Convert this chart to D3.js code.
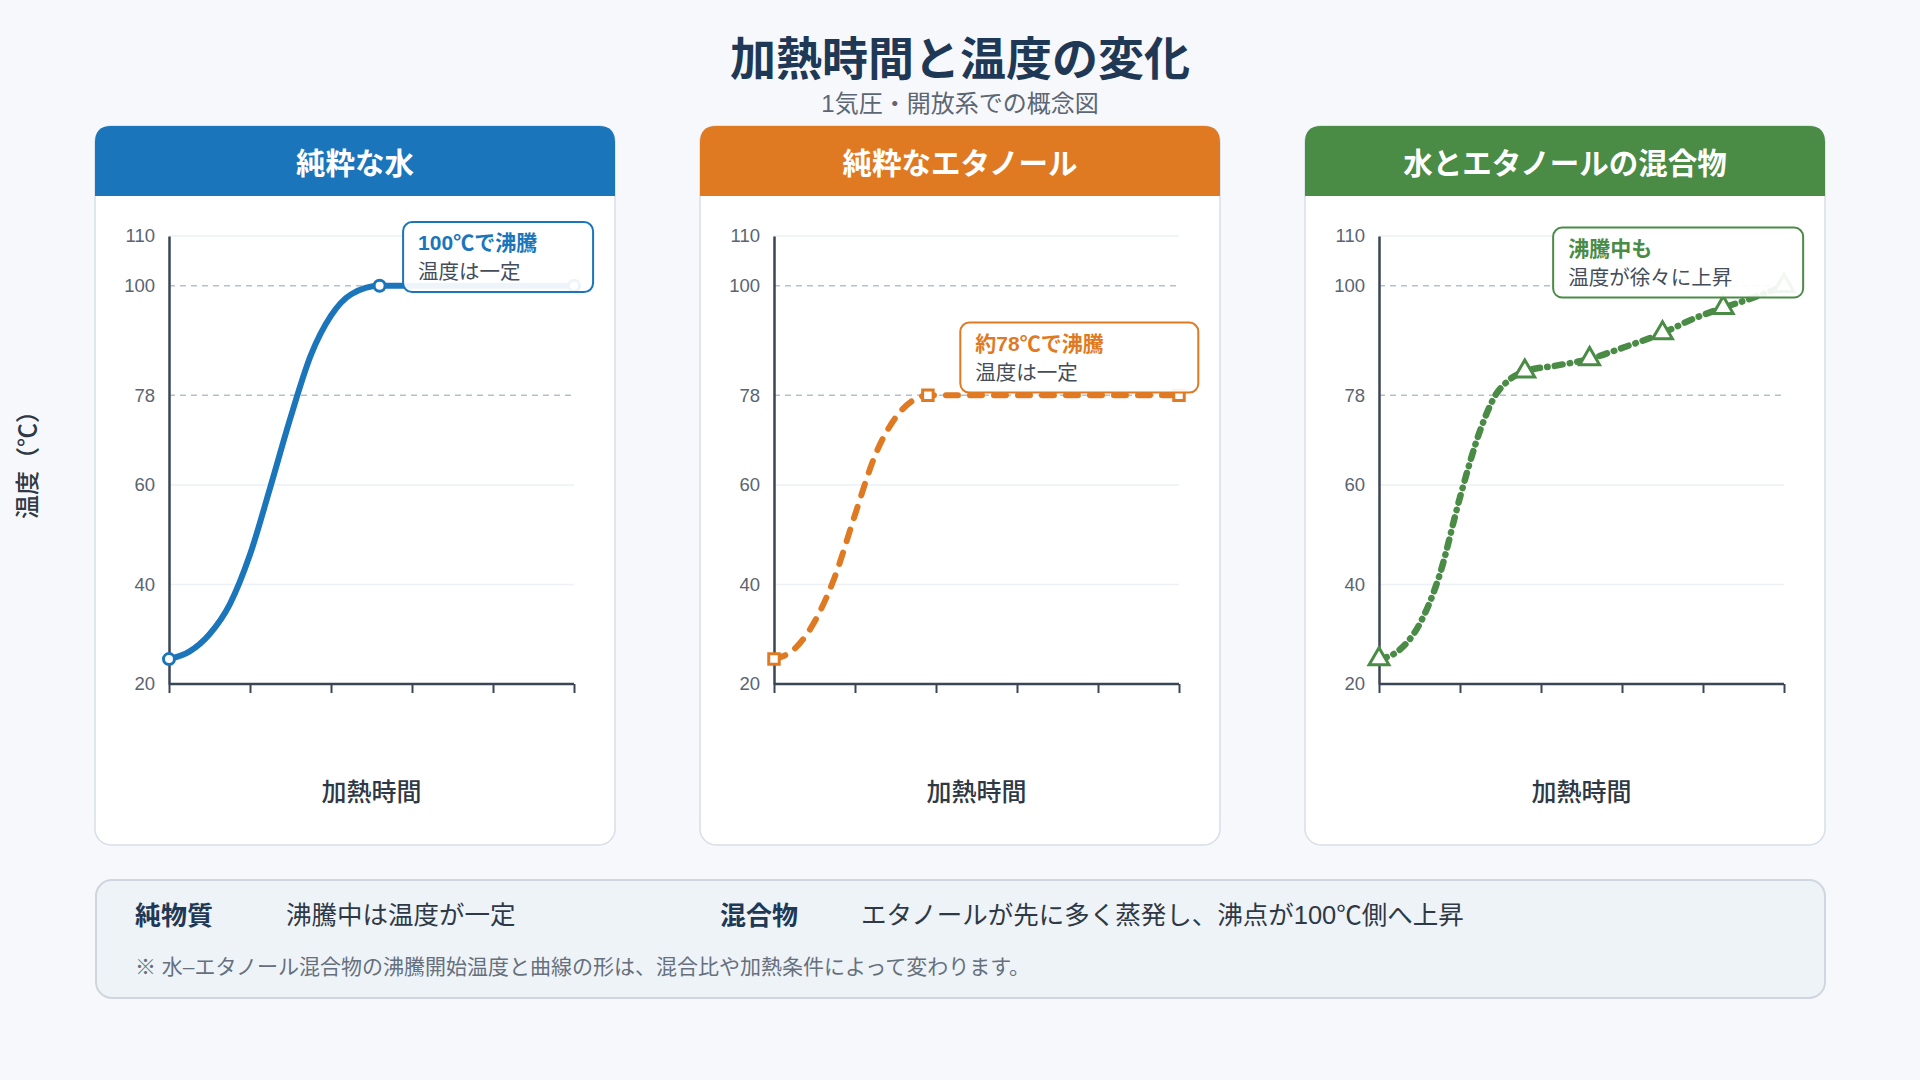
<!DOCTYPE html>
<html lang="ja">
<head>
<meta charset="utf-8">
<script src="https://cdn.jsdelivr.net/npm/d3@7"></script>
<style>
  html, body { margin: 0; padding: 0; background: #f6f8fc; }
  svg { display: block; font-family: "Liberation Sans", "Noto Sans CJK JP", "Noto Sans", sans-serif; }
</style>
</head>
<body>
<svg id="chart" width="1920" height="1080"></svg>
<script>
// ---------- data ----------
const chartTitle = "加熱時間と温度の変化";
const chartSubtitle = "1気圧・開放系での概念図";
const yAxisLabel = "温度（℃）";
const xAxisLabel = "加熱時間";
const panelTitles = ["純粋な水", "純粋なエタノール", "水とエタノールの混合物"];
const panelColors = ["#1b75bb", "#e07a22", "#4a8b46"];
const yTickValues = [20, 40, 60, 78, 100, 110];
const dashedRefValues = [100, 78];
const xTickValues = [0, 1, 2, 3, 4, 5];

const waterTime = [0, 0.25, 0.5, 0.75, 1.0, 1.25, 1.5, 1.75, 2.0, 2.25, 2.6, 3.5, 4.3, 5];
const waterTemp = [25, 26.5, 30, 36, 46, 59.5, 73.5, 86, 94, 98.3, 100, 100, 100, 100];
const waterMarkerTime = [0, 2.6, 5];
const waterMarkerTemp = [25, 100, 100];

const ethanolTime = [0, 0.25, 0.5, 0.75, 1.0, 1.25, 1.5, 1.7, 1.9, 3, 4, 5];
const ethanolTemp = [25, 27, 32.5, 41.5, 54, 66, 73.5, 76.8, 78, 78, 78, 78];
const ethanolMarkerTime = [0, 1.9, 5];
const ethanolMarkerTemp = [25, 78, 78];

const mixTime = [0, 0.25, 0.5, 0.75, 1.0, 1.25, 1.43, 1.6, 1.8, 2.2, 2.6, 3.0, 3.5, 3.9, 4.25, 4.6, 5];
const mixTemp = [25, 26.8, 32, 42, 57.5, 71, 77.8, 81, 82.8, 84, 85.3, 87.5, 90.5, 93.5, 95.6, 97.5, 100];
const mixMarkerTime = [0, 1.8, 2.6, 3.5, 4.25, 5];
const mixMarkerTemp = [25, 82.8, 85.3, 90.5, 95.6, 100];

const calloutTitles = ["100℃で沸騰", "約78℃で沸騰", "沸騰中も"];
const calloutNotes = ["温度は一定", "温度は一定", "温度が徐々に上昇"];

const footerLabels = ["純物質", "混合物"];
const footerTexts = ["沸騰中は温度が一定", "エタノールが先に多く蒸発し、沸点が100℃側へ上昇"];
const footerNote = "※ 水–エタノール混合物の沸騰開始温度と曲線の形は、混合比や加熱条件によって変わります。";

// ---------- build ----------
const series = [
  { t: waterTime, v: waterTemp, mt: waterMarkerTime, mv: waterMarkerTemp, symbol: d3.symbolCircle, size: 95, dash: null, w: 6 },
  { t: ethanolTime, v: ethanolTemp, mt: ethanolMarkerTime, mv: ethanolMarkerTemp, symbol: d3.symbolSquare, size: 110, dash: "12 12", w: 6 },
  { t: mixTime, v: mixTemp, mt: mixMarkerTime, mv: mixMarkerTemp, symbol: d3.symbolTriangle, size: 170, dash: "8 7.2 0.5 7.2", w: 6.5 }
];
const calloutPlace = [
  { t: 2.89, v: 112.8, w: 190 },
  { t: 2.30, v: 92.6, w: 238 },
  { t: 2.15, v: 111.7, w: 250 }
];

const svg = d3.select("#chart");
const W = 1920;
const cjk = "'Noto Sans CJK JP', sans-serif";

svg.append("rect").attr("width", 1920).attr("height", 1080).attr("fill", "#f6f8fc");

svg.append("text").attr("x", W / 2).attr("y", 55)
  .attr("text-anchor", "middle").attr("dominant-baseline", "central")
  .attr("font-size", 46).attr("font-weight", 700).attr("fill", "#1e3855")
  .attr("font-family", cjk)
  .text(chartTitle);
svg.append("text").attr("x", W / 2).attr("y", 103)
  .attr("text-anchor", "middle").attr("dominant-baseline", "central")
  .attr("font-size", 24).attr("fill", "#5d6673")
  .text(chartSubtitle);

svg.append("text")
  .attr("transform", "translate(25,459) rotate(-90)")
  .attr("text-anchor", "middle").attr("dominant-baseline", "central")
  .attr("font-size", 24).attr("font-weight", 500).attr("fill", "#2f3945")
  .attr("font-family", cjk)
  .text(yAxisLabel);

const panelW = 520, panelStep = 605, panelX0 = 95, panelTop = 126, panelBottom = 845, headerH = 70, R = 16;

const y = d3.scaleLinear().domain([20, 110]).range([684, 236]);

panelTitles.forEach((title, i) => {
  const px = panelX0 + i * panelStep;
  const color = panelColors[i];
  const g = svg.append("g").attr("transform", `translate(${px},0)`);

  g.append("rect").attr("x", 0).attr("y", panelTop).attr("width", panelW)
    .attr("height", panelBottom - panelTop).attr("rx", R)
    .attr("fill", "#ffffff").attr("stroke", "#d8dee8").attr("stroke-width", 1.5);
  const hp = `M0,${panelTop + headerH} V${panelTop + R} Q0,${panelTop} ${R},${panelTop} H${panelW - R} Q${panelW},${panelTop} ${panelW},${panelTop + R} V${panelTop + headerH} Z`;
  g.append("path").attr("d", hp).attr("fill", color);
  g.append("text").attr("x", panelW / 2).attr("y", panelTop + headerH / 2)
    .attr("text-anchor", "middle").attr("dominant-baseline", "central")
    .attr("font-size", 29.5).attr("font-weight", 700).attr("fill", "#ffffff")
    .attr("font-family", cjk)
    .text(title);

  const ax = 74;
  const x = d3.scaleLinear().domain([0, 5]).range([ax, ax + 405]);

  const grid = g.append("g");
  yTickValues.filter(v => v !== 20 && !dashedRefValues.includes(v)).forEach(v => {
    grid.append("line").attr("x1", x(0)).attr("x2", x(5)).attr("y1", y(v)).attr("y2", y(v))
      .attr("stroke", "#edf0f4").attr("stroke-width", 1.5);
  });
  dashedRefValues.forEach(v => {
    grid.append("line").attr("x1", x(0)).attr("x2", x(5)).attr("y1", y(v)).attr("y2", y(v))
      .attr("stroke", "#b6bfcb").attr("stroke-width", 1.5).attr("stroke-dasharray", "6 5");
  });

  const yAxis = g.append("g").attr("transform", `translate(${x(0)},0)`)
    .call(d3.axisLeft(y).tickValues(yTickValues).tickSize(0).tickPadding(14).tickFormat(d3.format("d")));
  yAxis.select(".domain").attr("stroke", "#3a4556").attr("stroke-width", 2.5);
  yAxis.selectAll("text").attr("font-size", 18.5).attr("fill", "#5a6472")
    .attr("font-family", "'Liberation Sans', 'Noto Sans', sans-serif");

  const xAxis = g.append("g").attr("transform", `translate(0,${y(20)})`)
    .call(d3.axisBottom(x).tickValues(xTickValues).tickSize(9).tickFormat(""));
  xAxis.select(".domain").attr("stroke", "#3a4556").attr("stroke-width", 2.5).attr("d", `M${x(0)},0H${x(5)}`);
  xAxis.selectAll(".tick line").attr("stroke", "#3a4556").attr("stroke-width", 2);

  g.append("text").attr("x", (x(0) + x(5)) / 2).attr("y", 790)
    .attr("text-anchor", "middle").attr("dominant-baseline", "central")
    .attr("font-size", 25).attr("font-weight", 500).attr("fill", "#2f3945")
    .attr("font-family", cjk)
    .text(xAxisLabel);

  const s = series[i];
  const pts = s.t.map((t, k) => [t, s.v[k]]);
  const line = d3.line().x(d => x(d[0])).y(d => y(d[1])).curve(d3.curveMonotoneX);
  const path = g.append("path").datum(pts).attr("d", line)
    .attr("fill", "none").attr("stroke", color).attr("stroke-width", s.w)
    .attr("stroke-linecap", "round").attr("stroke-linejoin", "round");
  if (s.dash) path.attr("stroke-dasharray", s.dash);

  s.mt.forEach((t, k) => {
    g.append("path").attr("d", d3.symbol().type(s.symbol).size(s.size)())
      .attr("transform", `translate(${x(t)},${y(s.mv[k])})`)
      .attr("fill", "#ffffff").attr("stroke", color).attr("stroke-width", 3);
  });

  const cp = calloutPlace[i];
  const bx = x(cp.t), by = y(cp.v);
  const cg = g.append("g").attr("transform", `translate(${bx},${by})`);
  cg.append("rect").attr("width", cp.w).attr("height", 70).attr("rx", 9)
    .attr("fill", "#ffffff").attr("fill-opacity", 0.92)
    .attr("stroke", color).attr("stroke-width", 2);
  cg.append("text").attr("x", 15).attr("y", 28)
    .attr("font-size", 21).attr("font-weight", 700).attr("fill", color)
    .text(calloutTitles[i]);
  cg.append("text").attr("x", 15).attr("y", 57)
    .attr("font-size", 20.5).attr("fill", "#444d59")
    .text(calloutNotes[i]);
});

const fg = svg.append("g");
fg.append("rect").attr("x", 96).attr("y", 880).attr("width", 1729).attr("height", 118).attr("rx", 16)
  .attr("fill", "#eef3f8").attr("stroke", "#cfd6df").attr("stroke-width", 2);
const labelX = [135, 720], textX = [286, 861];
footerLabels.forEach((lab, k) => {
  fg.append("text").attr("x", labelX[k]).attr("y", 913).attr("dominant-baseline", "central")
    .attr("font-size", 26).attr("font-weight", 700).attr("fill", "#1e3855")
    .attr("font-family", cjk).text(lab);
  fg.append("text").attr("x", textX[k]).attr("y", 915).attr("dominant-baseline", "central")
    .attr("font-size", 25.5).attr("fill", "#2f3945").text(footerTexts[k]);
});
fg.append("text").attr("x", 135).attr("y", 966).attr("dominant-baseline", "central")
  .attr("font-size", 21).attr("fill", "#66707d").text(footerNote);
</script>
</body>
</html>
